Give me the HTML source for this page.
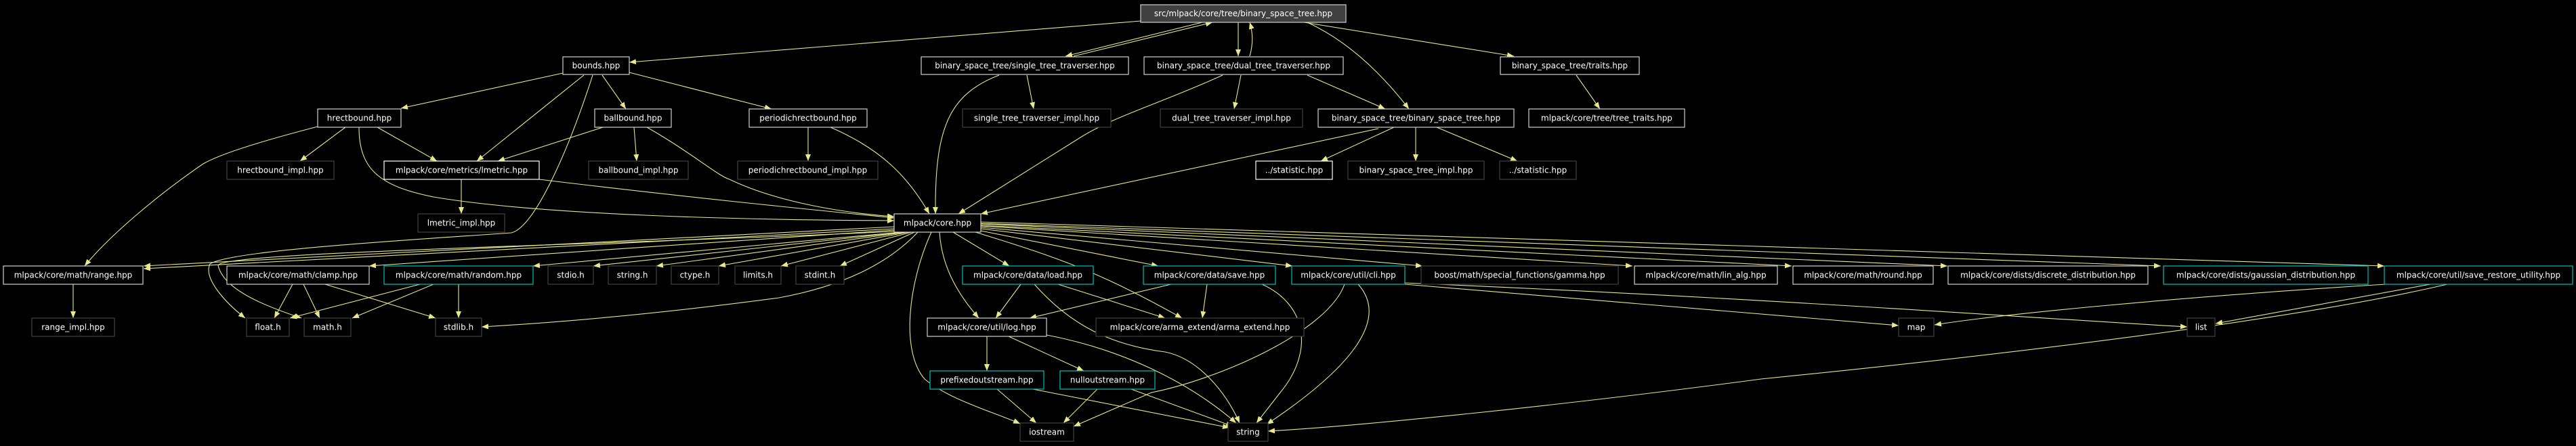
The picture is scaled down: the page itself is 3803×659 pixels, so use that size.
<!DOCTYPE html>
<html><head><meta charset="utf-8"><style>
html,body{margin:0;padding:0;background:#000;width:3803px;height:659px;overflow:hidden}
svg text{font-family:"DejaVu Sans","Liberation Sans",sans-serif;font-size:12px;fill:#fff;text-anchor:middle;dominant-baseline:central}
</style></head><body>
<svg width="3803" height="659" viewBox="0 0 3803 659" xmlns="http://www.w3.org/2000/svg">
<defs><marker id="a" markerUnits="userSpaceOnUse" markerWidth="11" markerHeight="8" refX="10" refY="4" orient="auto"><path d="M0,0 L10,4 L0,8 z" fill="#e8e88c"/></marker></defs>
<g fill="none" stroke="#e8e88c" stroke-width="1.1" marker-end="url(#a)">
<path d="M1684,31 L929,92"/>
<path d="M1775,33 L1573,83"/>
<path d="M1585,83 L1790,33"/>
<path d="M1828,33 L1828,83"/>
<path d="M1845,83 C1850,65 1850,50 1845,33"/>
<path d="M1930,33 Q2010,70 2080,161"/>
<path d="M1925,33 L2235,83"/>
<path d="M1930,111 L2045,161"/>
<path d="M1832,111 L1822,161"/>
<path d="M1805,111 C1720,150 1650,170 1600,200 L1415,316"/>
<path d="M1516,111 L1526,161"/>
<path d="M1475,111 C1400,140 1380,190 1381,316"/>
<path d="M2327,111 L2362,161"/>
<path d="M2058,188 L1950,238"/>
<path d="M2090,188 L2090,238"/>
<path d="M2121,188 L2240,238"/>
<path d="M2035,190 L1448,316"/>
<path d="M831,108 L592,160"/>
<path d="M862,111 L704,238"/>
<path d="M889,111 L924,161"/>
<path d="M929,107 L1139,161"/>
<path d="M875,111 C840,220 790,335 755,344 C600,355 340,370 310,390 C300,410 330,445 362,470"/>
<path d="M469,187 C400,205 330,225 300,242 C230,290 160,350 125,393"/>
<path d="M510,188 L443,238"/>
<path d="M557,188 L645,238"/>
<path d="M530,188 C530,250 560,275 640,291 C800,318 1100,325 1320,326"/>
<path d="M890,188 L735,238"/>
<path d="M936,188 L940,238"/>
<path d="M955,188 C1020,225 1060,260 1077,265 C1150,300 1250,315 1320,320"/>
<path d="M1193,188 L1193,238"/>
<path d="M1226,188 C1300,220 1340,260 1372,316"/>
<path d="M681,265 L681,316"/>
<path d="M796,265 C1000,290 1200,310 1320,322"/>
<path d="M1320,335 L212,393"/>
<path d="M1320,338 L212,397"/>
<path d="M108,420 L108,470"/>
<path d="M1320,340 L545,393"/>
<path d="M1330,343 L787,393"/>
<path d="M1334,343 L876,393"/>
<path d="M1338,343 L969,393"/>
<path d="M1342,343 L1061,393"/>
<path d="M1346,343 L1153,393"/>
<path d="M1350,343 L1240,393"/>
<path d="M1320,342 C900,362 330,372 322,392 C330,430 400,455 445,470"/>
<path d="M1355,343 C1320,380 1260,420 1150,440 C1000,460 850,475 711,483"/>
<path d="M432,420 L405,470"/>
<path d="M448,420 L472,470"/>
<path d="M480,420 L643,470"/>
<path d="M620,420 L428,470"/>
<path d="M640,420 L520,470"/>
<path d="M677,420 L677,470"/>
<path d="M1407,343 L1490,393"/>
<path d="M1448,341 L1710,393"/>
<path d="M1448,338 L1908,393"/>
<path d="M1448,336 L2100,393"/>
<path d="M1448,334 L2410,393"/>
<path d="M1448,333 L2645,393"/>
<path d="M1448,331 L2875,393"/>
<path d="M1448,330 L3190,393"/>
<path d="M1448,328 L3520,393"/>
<path d="M1387,343 C1390,390 1410,430 1445,470"/>
<path d="M1440,343 C1560,380 1620,400 1745,470"/>
<path d="M1375,343 C1340,420 1330,520 1365,560 C1400,590 1470,610 1506,626"/>
<path d="M1507,420 L1470,470"/>
<path d="M1562,420 L1720,470"/>
<path d="M1527,420 C1580,480 1640,510 1720,520 C1770,530 1810,580 1830,625"/>
<path d="M1729,420 L1520,470"/>
<path d="M1782,420 L1775,470"/>
<path d="M1863,420 C1930,450 1940,520 1890,580 L1855,625"/>
<path d="M1985,420 C1960,490 1800,560 1700,580 L1585,630"/>
<path d="M2005,420 C2050,470 2000,540 1870,627"/>
<path d="M2074,420 L2803,481"/>
<path d="M2074,418 C2600,440 3000,470 3229,483"/>
<path d="M1457,497 L1457,548"/>
<path d="M1489,497 L1600,548"/>
<path d="M1545,495 C1650,515 1750,560 1825,625"/>
<path d="M1472,575 L1530,625"/>
<path d="M1525,575 L1815,632"/>
<path d="M1620,575 L1570,625"/>
<path d="M1670,575 L1820,630"/>
<path d="M3522,420 C3200,440 2950,465 2856,480"/>
<path d="M3588,420 L3271,478"/>
<path d="M3613,420 C3400,470 3000,520 2600,560 C2300,600 2000,630 1872,637"/>
</g>
<g stroke-width="1.2">
<rect x="1684" y="7" width="303" height="26" fill="#404040" stroke="#d0d0d0"/><text x="1835.5" y="20">src/mlpack/core/tree/binary_space_tree.hpp</text>
<rect x="831" y="84" width="98" height="26" fill="#000" stroke="#d0d0d0"/><text x="880" y="97">bounds.hpp</text>
<rect x="1360" y="84" width="306" height="26" fill="#000" stroke="#d0d0d0"/><text x="1513" y="97">binary_space_tree/single_tree_traverser.hpp</text>
<rect x="1689" y="84" width="294" height="26" fill="#000" stroke="#d0d0d0"/><text x="1836" y="97">binary_space_tree/dual_tree_traverser.hpp</text>
<rect x="2215" y="84" width="205" height="26" fill="#000" stroke="#d0d0d0"/><text x="2317.5" y="97">binary_space_tree/traits.hpp</text>
<rect x="469" y="161" width="123" height="27" fill="#000" stroke="#d0d0d0"/><text x="530.5" y="174.5">hrectbound.hpp</text>
<rect x="878" y="161" width="113" height="27" fill="#000" stroke="#d0d0d0"/><text x="934.5" y="174.5">ballbound.hpp</text>
<rect x="1106" y="161" width="174" height="27" fill="#000" stroke="#d0d0d0"/><text x="1193" y="174.5">periodichrectbound.hpp</text>
<rect x="1421" y="161" width="219" height="27" fill="#000" stroke="#404040"/><text x="1530.5" y="174.5">single_tree_traverser_impl.hpp</text>
<rect x="1713" y="161" width="210" height="27" fill="#000" stroke="#404040"/><text x="1818" y="174.5">dual_tree_traverser_impl.hpp</text>
<rect x="1946" y="161" width="289" height="27" fill="#000" stroke="#d0d0d0"/><text x="2090.5" y="174.5">binary_space_tree/binary_space_tree.hpp</text>
<rect x="2257" y="161" width="230" height="27" fill="#000" stroke="#d0d0d0"/><text x="2372" y="174.5">mlpack/core/tree/tree_traits.hpp</text>
<rect x="335" y="238" width="158" height="27" fill="#000" stroke="#404040"/><text x="414" y="251.5">hrectbound_impl.hpp</text>
<rect x="567" y="238" width="229" height="27" fill="#000" stroke="#fff"/><text x="681.5" y="251.5">mlpack/core/metrics/lmetric.hpp</text>
<rect x="869" y="238" width="147" height="27" fill="#000" stroke="#404040"/><text x="942.5" y="251.5">ballbound_impl.hpp</text>
<rect x="1089" y="238" width="207" height="27" fill="#000" stroke="#404040"/><text x="1192.5" y="251.5">periodichrectbound_impl.hpp</text>
<rect x="1854" y="238" width="113" height="27" fill="#000" stroke="#fff"/><text x="1910.5" y="251.5">../statistic.hpp</text>
<rect x="1990" y="238" width="201" height="27" fill="#000" stroke="#404040"/><text x="2090.5" y="251.5">binary_space_tree_impl.hpp</text>
<rect x="2214" y="238" width="113" height="27" fill="#000" stroke="#404040"/><text x="2270.5" y="251.5">../statistic.hpp</text>
<rect x="617" y="316" width="128" height="27" fill="#000" stroke="#404040"/><text x="681" y="329.5">lmetric_impl.hpp</text>
<rect x="1320" y="316" width="128" height="27" fill="#000" stroke="#d0d0d0"/><text x="1384" y="329.5">mlpack/core.hpp</text>
<rect x="5" y="393" width="206" height="27" fill="#000" stroke="#d0d0d0"/><text x="108" y="406.5">mlpack/core/math/range.hpp</text>
<rect x="335" y="393" width="210" height="27" fill="#000" stroke="#d0d0d0"/><text x="440" y="406.5">mlpack/core/math/clamp.hpp</text>
<rect x="567" y="393" width="220" height="27" fill="#000" stroke="#00bfbf"/><text x="677" y="406.5">mlpack/core/math/random.hpp</text>
<rect x="809" y="393" width="67" height="27" fill="#000" stroke="#404040"/><text x="842.5" y="406.5">stdio.h</text>
<rect x="898" y="393" width="71" height="27" fill="#000" stroke="#404040"/><text x="933.5" y="406.5">string.h</text>
<rect x="991" y="393" width="70" height="27" fill="#000" stroke="#404040"/><text x="1026" y="406.5">ctype.h</text>
<rect x="1085" y="393" width="68" height="27" fill="#000" stroke="#404040"/><text x="1119" y="406.5">limits.h</text>
<rect x="1175" y="393" width="71" height="27" fill="#000" stroke="#404040"/><text x="1210.5" y="406.5">stdint.h</text>
<rect x="1421" y="393" width="193" height="27" fill="#000" stroke="#00bfbf"/><text x="1517.5" y="406.5">mlpack/core/data/load.hpp</text>
<rect x="1688" y="393" width="195" height="27" fill="#000" stroke="#00bfbf"/><text x="1785.5" y="406.5">mlpack/core/data/save.hpp</text>
<rect x="1907" y="393" width="167" height="27" fill="#000" stroke="#00bfbf"/><text x="1990.5" y="406.5">mlpack/core/util/cli.hpp</text>
<rect x="2098" y="393" width="291" height="27" fill="#000" stroke="#404040"/><text x="2243.5" y="406.5">boost/math/special_functions/gamma.hpp</text>
<rect x="2413" y="393" width="211" height="27" fill="#000" stroke="#d0d0d0"/><text x="2518.5" y="406.5">mlpack/core/math/lin_alg.hpp</text>
<rect x="2647" y="393" width="207" height="27" fill="#000" stroke="#d0d0d0"/><text x="2750.5" y="406.5">mlpack/core/math/round.hpp</text>
<rect x="2876" y="393" width="295" height="27" fill="#000" stroke="#d0d0d0"/><text x="3023.5" y="406.5">mlpack/core/dists/discrete_distribution.hpp</text>
<rect x="3194" y="393" width="302" height="27" fill="#000" stroke="#00bfbf"/><text x="3345" y="406.5">mlpack/core/dists/gaussian_distribution.hpp</text>
<rect x="3520" y="393" width="278" height="27" fill="#000" stroke="#00bfbf"/><text x="3659" y="406.5">mlpack/core/util/save_restore_utility.hpp</text>
<rect x="47" y="470" width="122" height="27" fill="#000" stroke="#404040"/><text x="108" y="483.5">range_impl.hpp</text>
<rect x="364" y="470" width="63" height="27" fill="#000" stroke="#404040"/><text x="395.5" y="483.5">float.h</text>
<rect x="449" y="470" width="69" height="27" fill="#000" stroke="#404040"/><text x="483.5" y="483.5">math.h</text>
<rect x="643" y="470" width="68" height="27" fill="#000" stroke="#404040"/><text x="677" y="483.5">stdlib.h</text>
<rect x="1369" y="470" width="176" height="27" fill="#000" stroke="#d0d0d0"/><text x="1457" y="483.5">mlpack/core/util/log.hpp</text>
<rect x="1618" y="470" width="307" height="27" fill="#000" stroke="#404040"/><text x="1771.5" y="483.5">mlpack/core/arma_extend/arma_extend.hpp</text>
<rect x="2803" y="470" width="52" height="27" fill="#000" stroke="#404040"/><text x="2829" y="483.5">map</text>
<rect x="3229" y="470" width="41" height="27" fill="#000" stroke="#404040"/><text x="3249.5" y="483.5">list</text>
<rect x="1373" y="548" width="168" height="27" fill="#000" stroke="#00bfbf"/><text x="1457" y="561.5">prefixedoutstream.hpp</text>
<rect x="1565" y="548" width="140" height="27" fill="#000" stroke="#00bfbf"/><text x="1635" y="561.5">nulloutstream.hpp</text>
<rect x="1506" y="625" width="79" height="27" fill="#000" stroke="#404040"/><text x="1545.5" y="638.5">iostream</text>
<rect x="1813" y="625" width="59" height="27" fill="#000" stroke="#404040"/><text x="1842.5" y="638.5">string</text>
</g>
</svg>
</body></html>
